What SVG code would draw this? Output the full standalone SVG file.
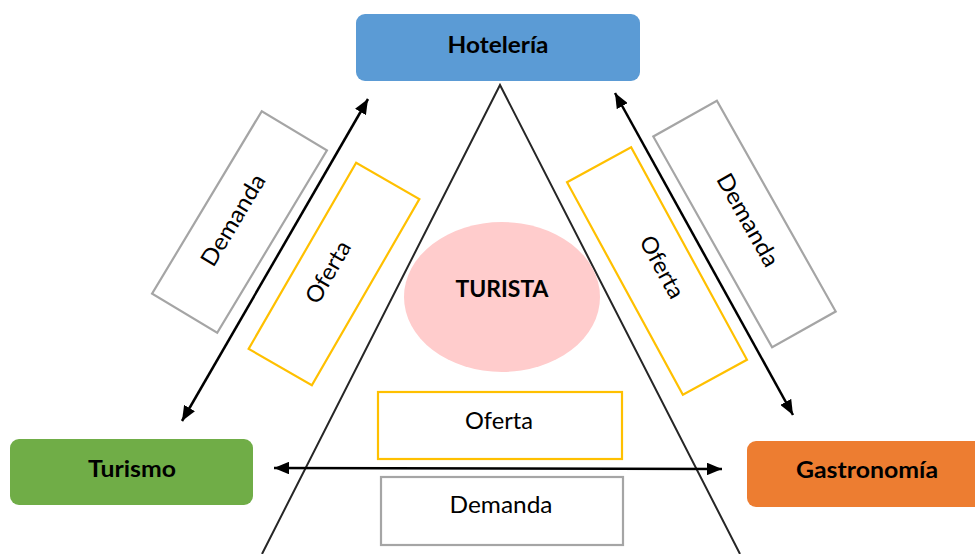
<svg xmlns="http://www.w3.org/2000/svg" width="975" height="554" viewBox="0 0 975 554">
  <defs>
    <style>
      .lbl { font-family: Lato, "Liberation Sans", sans-serif; font-size: 23px; fill: #000; text-anchor: middle; }
      .bold { font-weight: bold; }
      .offer { fill: #fff; stroke: #FFC000; stroke-width: 2.2; }
      .demand { fill: #fff; stroke: #A5A5A5; stroke-width: 2.2; }
      .tri { fill: none; stroke: #262626; stroke-width: 2; }
      .link { fill: none; stroke: #000; stroke-width: 2.5; marker-start: url(#head); marker-end: url(#head); }
    </style>
    <marker id="head" viewBox="0 0 12 10" refX="12" refY="5" markerWidth="15" markerHeight="12.5" markerUnits="userSpaceOnUse" orient="auto-start-reverse">
      <path d="M0,0 L12,5 L0,10 z" fill="#000"/>
    </marker>
  </defs>

  <rect width="975" height="554" fill="#fff"/>

  <!-- central triangle -->
  <g id="triangle">
    <polyline class="tri" points="262,554 500,85 740,554"/>
  </g>

  <!-- tourist at the centre -->
  <g id="turista">
    <ellipse cx="502" cy="297" rx="98" ry="75" fill="#FFCCCC"/>
    <text class="lbl bold" x="502" y="297" textLength="93" lengthAdjust="spacingAndGlyphs">TURISTA</text>
  </g>

  <!-- sectors -->
  <g id="hoteleria">
    <rect x="356" y="14" width="284" height="67" rx="9" fill="#5B9BD5"/>
    <text class="lbl bold" x="498" y="53" textLength="101" lengthAdjust="spacingAndGlyphs">Hotelería</text>
  </g>
  <g id="turismo">
    <rect x="10" y="439" width="243" height="66" rx="9" fill="#70AD47"/>
    <text class="lbl bold" x="132" y="477" textLength="88" lengthAdjust="spacingAndGlyphs">Turismo</text>
  </g>
  <g id="gastronomia">
    <rect x="747" y="441" width="245" height="66" rx="9" fill="#ED7D31"/>
    <text class="lbl bold" x="867" y="478" textLength="142" lengthAdjust="spacingAndGlyphs">Gastronomía</text>
  </g>

  <!-- supply / demand labels -->
  <g id="oferta-izq">
    <rect class="offer" x="-36.5" y="-107.5" width="73" height="215" transform="translate(334 274) rotate(30)"/>
    <text class="lbl" x="0" y="8" textLength="68" lengthAdjust="spacingAndGlyphs" transform="translate(328 272) rotate(-60)">Oferta</text>
  </g>
  <g id="demanda-izq">
    <rect class="demand" x="-38" y="-106.5" width="76" height="213" transform="translate(239.5 222) rotate(31)"/>
    <text class="lbl" x="0" y="8" textLength="103" lengthAdjust="spacingAndGlyphs" transform="translate(233 220) rotate(-59)">Demanda</text>
  </g>
  <g id="oferta-der">
    <rect class="offer" x="-36.5" y="-121" width="73" height="242" transform="translate(657 271) rotate(-28.6)"/>
    <text class="lbl" x="0" y="8" textLength="68" lengthAdjust="spacingAndGlyphs" transform="translate(662 267) rotate(61.4)">Oferta</text>
  </g>
  <g id="demanda-der">
    <rect class="demand" x="-36.5" y="-121" width="73" height="242" transform="translate(744.5 224) rotate(-29.4)"/>
    <text class="lbl" x="0" y="8" textLength="103" lengthAdjust="spacingAndGlyphs" transform="translate(748 220) rotate(60.6)">Demanda</text>
  </g>
  <g id="oferta-base">
    <rect class="offer" x="378" y="392" width="244" height="67"/>
    <text class="lbl" x="499" y="429" textLength="68" lengthAdjust="spacingAndGlyphs">Oferta</text>
  </g>
  <g id="demanda-base">
    <rect class="demand" x="381" y="477" width="242" height="68"/>
    <text class="lbl" x="501" y="513" textLength="103" lengthAdjust="spacingAndGlyphs">Demanda</text>
  </g>

  <!-- two-way exchanges between sectors -->
  <g id="connectors">
    <line class="link" x1="182" y1="421" x2="368" y2="99"/>
    <line class="link" x1="615" y1="93" x2="793" y2="415"/>
    <line class="link" x1="274" y1="468" x2="722" y2="469"/>
  </g>
</svg>
